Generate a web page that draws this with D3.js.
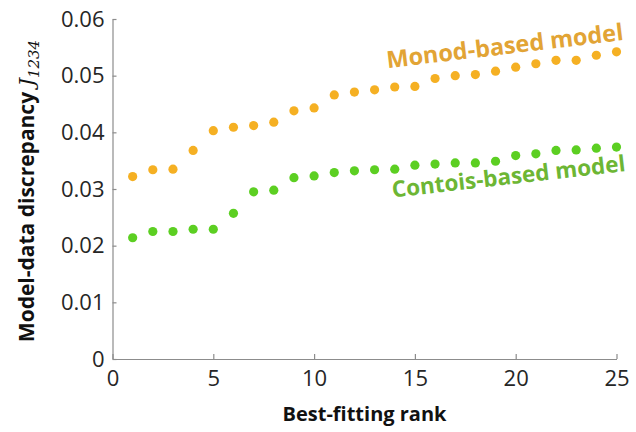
<!DOCTYPE html>
<html>
<head>
<meta charset="utf-8">
<script src="https://cdn.jsdelivr.net/npm/d3@7"></script>
<style>
  body { margin: 0; background: #fff; }
  svg { display: block; font-family: "Open Sans", sans-serif; }
</style>
</head>
<body>
<div id="chart"></div>
<script>
let width = 636, height = 432;
let margin = {top: 19, right: 19.5, bottom: 73, left: 112.5};

// best-fitting rank 1..25
let ranks = d3.range(1, 26);
let monod = [0.0322, 0.0334, 0.0335, 0.0368, 0.0403, 0.0409, 0.0412, 0.0418, 0.0438, 0.0443,
             0.0466, 0.0471, 0.0475, 0.0480, 0.0481, 0.0495, 0.0500, 0.0502, 0.0508, 0.0515,
             0.0521, 0.0527, 0.0527, 0.0536, 0.0542];
let contois = [0.0214, 0.0225, 0.0225, 0.0229, 0.0229, 0.0257, 0.0295, 0.0298, 0.0320, 0.0323,
               0.0329, 0.0332, 0.0334, 0.0335, 0.0342, 0.0344, 0.0346, 0.0346, 0.0349, 0.0359,
               0.0362, 0.0368, 0.0369, 0.0372, 0.0374];
let xTicks = [0, 5, 10, 15, 20, 25];
let yTicks = [0, 0.01, 0.02, 0.03, 0.04, 0.05, 0.06];

let svg = d3.select("#chart").append("svg")
  .attr("width", width)
  .attr("height", height);

let x = d3.scaleLinear().domain([0, 25]).range([margin.left, width - margin.right]);
let y = d3.scaleLinear().domain([0, 0.06]).range([height - margin.bottom, margin.top]);

// axes, MATLAB style ticks pointing inward
let xAxis = svg.append("g")
  .attr("transform", `translate(0,${y(0)})`)
  .call(d3.axisBottom(x).tickValues(xTicks).tickSizeInner(-5).tickSizeOuter(0).tickPadding(11).tickFormat(d3.format("d")));
let yAxis = svg.append("g")
  .attr("transform", `translate(${x(0)},0)`)
  .call(d3.axisLeft(y).tickValues(yTicks).tickSizeInner(-4).tickSizeOuter(0).tickPadding(8)
    .tickFormat(d => d === 0 ? "0" : d3.format(".2f")(d)));

[xAxis, yAxis].forEach(a => {
  a.select(".domain").attr("stroke", "#8c8c8c").attr("stroke-width", 1.2);
  a.selectAll(".tick line").attr("stroke", "#8c8c8c").attr("stroke-width", 1.2);
  a.selectAll(".tick text").attr("fill", "#262626").style("font-family", "Open Sans, sans-serif");
});
xAxis.selectAll(".tick text").attr("font-size", 22);
yAxis.selectAll(".tick text").attr("font-size", 22);

// dots
let series = [
  {name: "Monod-based model", values: monod, fill: "#f5b023", text: "#e2a435"},
  {name: "Contois-based model", values: contois, fill: "#5ccf22", text: "#6db634"}
];

series.forEach(s => {
  svg.append("g").selectAll("circle")
    .data(ranks)
    .enter()
    .append("circle")
    .attr("cx", d => x(d))
    .attr("cy", (d, i) => y(s.values[i]))
    .attr("r", 4.6)
    .attr("fill", s.fill);
});

// labels sitting on the curves
svg.append("text")
  .attr("transform", `translate(624,40) rotate(-6.8)`)
  .attr("text-anchor", "end")
  .attr("font-size", 23.5)
  .attr("font-weight", "bold")
  .attr("fill", series[0].text)
  .text(series[0].name);

svg.append("text")
  .attr("transform", `translate(626,171) rotate(-6.5)`)
  .attr("text-anchor", "end")
  .attr("font-size", 22.5)
  .attr("font-weight", "bold")
  .attr("fill", series[1].text)
  .text(series[1].name);

// axis titles
svg.append("text")
  .attr("x", (x(0) + x(25)) / 2)
  .attr("y", 421)
  .attr("text-anchor", "middle")
  .attr("font-size", 20)
  .attr("font-weight", "bold")
  .attr("fill", "#111")
  .text("Best-fitting rank");

let yTitle = svg.append("text")
  .attr("transform", `translate(34,${(y(0) + y(0.06)) / 2 + 2}) rotate(-90)`)
  .attr("text-anchor", "middle")
  .attr("font-size", 21)
  .attr("fill", "#111");
yTitle.append("tspan").attr("font-weight", "bold").text("Model-data discrepancy ");
yTitle.append("tspan")
  .attr("font-family", "DejaVu Serif, serif")
  .attr("font-style", "italic")
  .attr("font-size", 21)
  .text("J");
yTitle.append("tspan")
  .attr("font-family", "DejaVu Serif, serif")
  .attr("font-style", "italic")
  .attr("font-size", 15)
  .attr("dy", 5)
  .text("1234");
</script>
</body>
</html>
